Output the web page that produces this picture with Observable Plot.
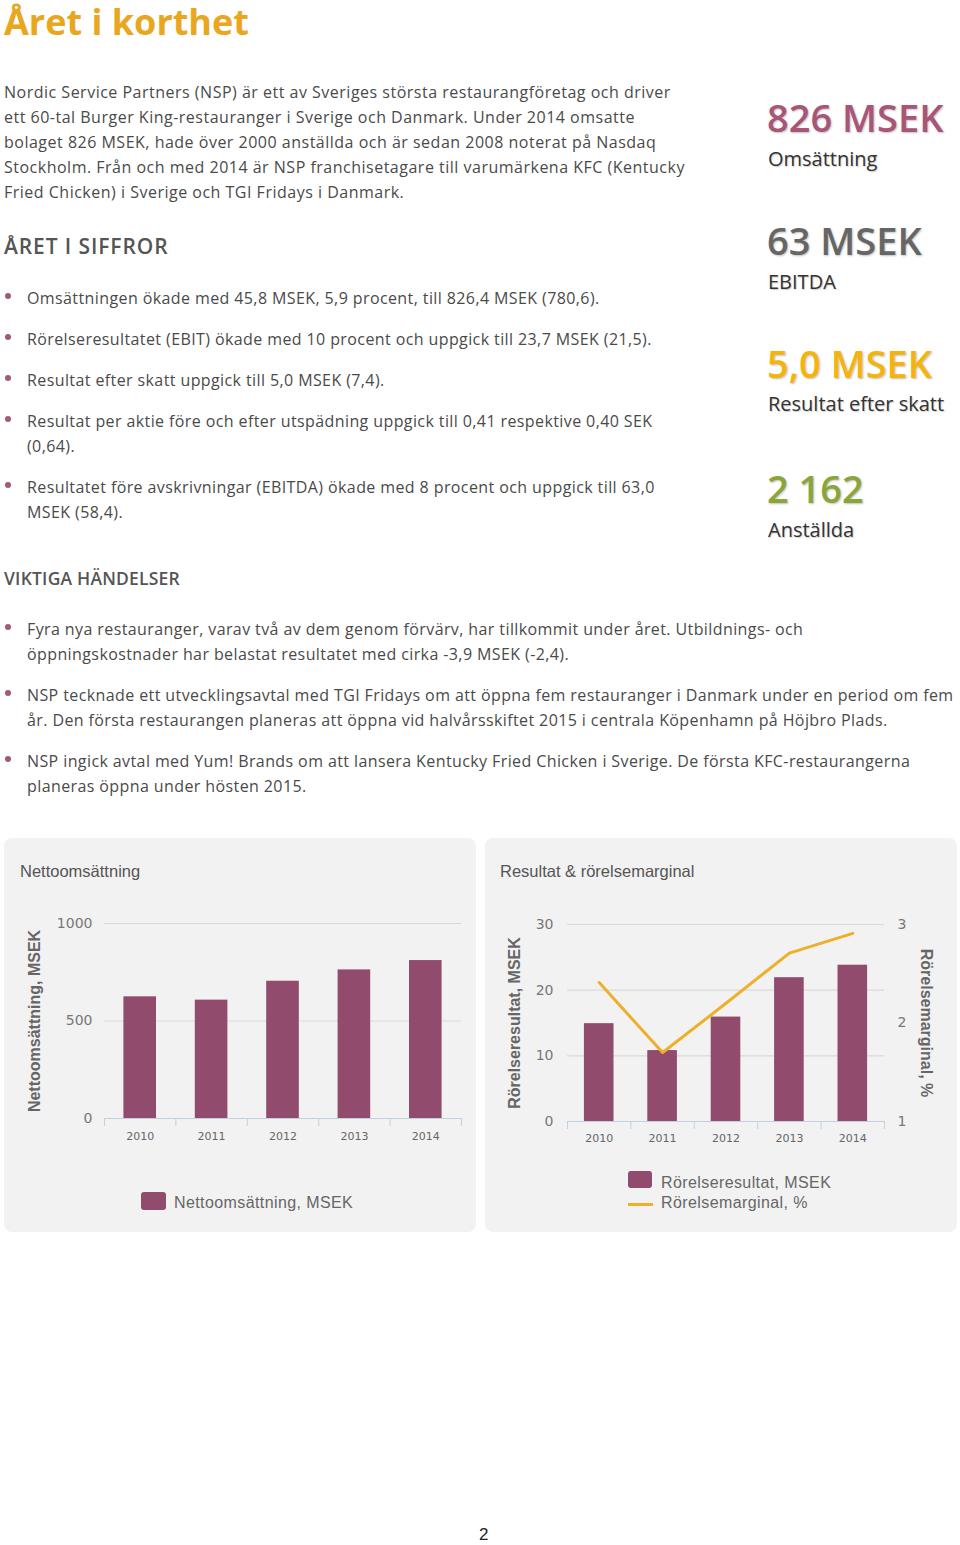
<!DOCTYPE html>
<html>
<head>
<meta charset="utf-8">
<script src="https://cdn.jsdelivr.net/npm/d3@7"></script>
<script src="https://cdn.jsdelivr.net/npm/@observablehq/plot@0.6"></script>
<style>
  html, body { margin: 0; padding: 0; background: #fff; }
  body { width: 960px; height: 1545px; position: relative; overflow: hidden; font-family: "Open Sans", sans-serif; }
  .abs { position: absolute; white-space: nowrap; }
  .title { left: 4px; top: 0px; font-size: 36px; font-weight: 700; color: #e8a71e; line-height: 44px; }
  .body { font-size: 16px; color: #4a4a4a; line-height: 25px; letter-spacing: 0.4px; }
  .para { letter-spacing: 0.5px; }
  .h2 { font-size: 21px; color: #555; line-height: 28px; letter-spacing: 0.9px; font-weight: 600; }
  .h3 { font-size: 17.5px; color: #555; line-height: 24px; font-weight: 600; letter-spacing: 0.2px; }
  .bullet { position: absolute; width: 6px; height: 6px; border-radius: 50%; background: #a25877; }
  .kpi { position: absolute; left: 767px; white-space: nowrap; font-weight: 600; font-size: 38px; line-height: 44px; text-shadow: 1px 1px 2px rgba(0,0,0,0.25); }
  .kpisub { position: absolute; left: 768px; white-space: nowrap; font-size: 20px; line-height: 26px; color: #333; text-shadow: 1px 1px 1px rgba(0,0,0,0.2); }
  .panel { position: absolute; top: 838px; width: 472px; height: 394px; background: #f2f2f2; border-radius: 8px; }
  .ptitle { position: absolute; font-family: "Liberation Sans", Arial, sans-serif; font-size: 16.5px; color: #555; white-space: nowrap; }
  .chart { position: absolute; top: 900px; }
  .leg { position: absolute; font-family: "Liberation Sans", Arial, sans-serif; font-size: 16px; color: #666; white-space: nowrap; letter-spacing: 0.4px; line-height: 20px; }
  .sw { position: absolute; background: #914b6c; border-radius: 3px; }
</style>
</head>
<body>
<div class="abs title">Året i korthet</div>

<div class="abs body para" style="left:4px; top:80px;">Nordic Service Partners (NSP) är ett av Sveriges största restaurangföretag och driver<br>ett 60-tal Burger King-restauranger i Sverige och Danmark. Under 2014 omsatte<br>bolaget 826 MSEK, hade över 2000 anställda och är sedan 2008 noterat på Nasdaq<br>Stockholm. Från och med 2014 är NSP franchisetagare till varumärkena KFC (Kentucky<br>Fried Chicken) i Sverige och TGI Fridays i Danmark.</div>

<div class="abs h2" style="left:4px; top:232px;">ÅRET I SIFFROR</div>
<div id="list1"></div>
<div class="abs h3" style="left:4px; top:566px;">VIKTIGA HÄNDELSER</div>
<div id="list2"></div>

<div class="kpi" style="top:95px; color:#a85577;">826 MSEK</div>
<div class="kpisub" style="top:146px;">Omsättning</div>
<div class="kpi" style="top:218px; color:#666;">63 MSEK</div>
<div class="kpisub" style="top:269px;">EBITDA</div>
<div class="kpi" style="top:341px; color:#f3b40c;">5,0 MSEK</div>
<div class="kpisub" style="top:391px;">Resultat efter skatt</div>
<div class="kpi" style="top:466px; color:#8aa63a;">2 162</div>
<div class="kpisub" style="top:517px;">Anställda</div>

<div class="panel" style="left:4px;"></div>
<div class="panel" style="left:485px;"></div>
<div class="ptitle" style="left:20px; top:862px;">Nettoomsättning</div>
<div class="ptitle" style="left:500px; top:862px;">Resultat &amp; rörelsemarginal</div>
<div id="chart1" class="chart" style="left:4px;"></div>
<div id="chart2" class="chart" style="left:485px;"></div>

<div class="sw" style="left:141px; top:1192px; width:25px; height:18px;"></div>
<div class="leg" style="left:174px; top:1193px;">Nettoomsättning, MSEK</div>
<div class="sw" style="left:628px; top:1171px; width:24px; height:17px;"></div>
<div class="leg" style="left:661px; top:1173px;">Rörelseresultat, MSEK</div>
<div style="position:absolute; left:628px; top:1203px; width:25px; height:3px; background:#eeb02b;"></div>
<div class="leg" style="left:661px; top:1193px;">Rörelsemarginal, %</div>

<div class="abs" style="left:479px; top:1525px; font-family:'Liberation Sans',Arial,sans-serif; font-size:17px; color:#222;">2</div>

<script>
// ---- Text data ----
const siffror = [
  ["Omsättningen ökade med 45,8 MSEK, 5,9 procent, till 826,4 MSEK (780,6)."],
  ["Rörelseresultatet (EBIT) ökade med 10 procent och uppgick till 23,7 MSEK (21,5)."],
  ["Resultat efter skatt uppgick till 5,0 MSEK (7,4)."],
  ["Resultat per aktie före och efter utspädning uppgick till 0,41 respektive 0,40 SEK", "(0,64)."],
  ["Resultatet före avskrivningar (EBITDA) ökade med 8 procent och uppgick till 63,0", "MSEK (58,4)."]
];
const handelser = [
  ["Fyra nya restauranger, varav två av dem genom förvärv, har tillkommit under året. Utbildnings- och", "öppningskostnader har belastat resultatet med cirka -3,9 MSEK (-2,4)."],
  ["NSP tecknade ett utvecklingsavtal med TGI Fridays om att öppna fem restauranger i Danmark under en period om fem", "år. Den första restaurangen planeras att öppna vid halvårsskiftet 2015 i centrala Köpenhamn på Höjbro Plads."],
  ["NSP ingick avtal med Yum! Brands om att lansera Kentucky Fried Chicken i Sverige. De första KFC-restaurangerna", "planeras öppna under hösten 2015."]
];

function renderList(id, items, startTop) {
  const root = document.getElementById(id);
  let top = startTop;
  for (const lines of items) {
    const b = document.createElement("div");
    b.className = "bullet";
    b.style.left = "5px";
    b.style.top = (top + 7) + "px";
    root.appendChild(b);
    const t = document.createElement("div");
    t.className = "abs body";
    t.style.left = "27px";
    t.style.top = top + "px";
    t.innerHTML = lines.join("<br>");
    root.appendChild(t);
    top += lines.length * 25 + 16;
  }
}
renderList("list1", siffror, 286);
renderList("list2", handelser, 617);

// ---- Chart data ----
const years = [2010, 2011, 2012, 2013, 2014];
const nettoomsattning = [624, 607, 704, 762, 810];
const rorelseresultat = [14.9, 10.8, 15.9, 21.9, 23.8];
const rorelsemarginal = [2.41, 1.70, 2.20, 2.71, 2.91];
const yTicks1 = [0, 500, 1000];
const yTicks2 = [0, 10, 20, 30];
const yTicksRight = [1, 2, 3];

const barColor = "#914b6c";
const lineColor = "#eeb02b";
const gridColor = "#d9d9d9";
const axisColor = "#c0d0e0";

const data1 = years.map((year, i) => ({year, value: nettoomsattning[i]}));
const data2 = years.map((year, i) => ({year, ebit: rorelseresultat[i], margin: rorelsemarginal[i]}));
const bounds = [years[0] - 0.5, ...years.map(y => y + 0.5)];

const baseStyle = {background: "transparent", fontFamily: "'DejaVu Sans', sans-serif", color: "#666", overflow: "visible"};
const titleFont = {fontSize: 16, fill: "#666", fontFamily: "'Liberation Sans', Arial, sans-serif", fontWeight: "bold", textAnchor: "middle", lineAnchor: "middle"};

const chart1 = Plot.plot({
  width: 472, height: 260,
  marginLeft: 100, marginRight: 15, marginTop: 23, marginBottom: 42,
  style: baseStyle,
  x: {type: "linear", domain: [bounds[0], bounds[bounds.length - 1]]},
  y: {domain: [0, 1000]},
  marks: [
    Plot.ruleY(yTicks1.filter(d => d > 0), {stroke: gridColor, strokeWidth: 1.2}),
    Plot.rectY(data1, {x1: d => d.year - 0.5, x2: d => d.year + 0.5, y: "value", fill: barColor, insetLeft: 19.4, insetRight: 19.4}),
    Plot.ruleY([0], {stroke: axisColor, strokeWidth: 1.2}),
    Plot.axisX({ticks: bounds, tickSize: 8, tickFormat: () => "", stroke: axisColor, label: null}),
    Plot.axisX({ticks: years, tickSize: 0, tickPadding: 14, tickFormat: d => String(d), fontSize: 11, fill: "#666", label: null}),
    Plot.axisY({ticks: yTicks1, tickSize: 0, tickPadding: 12, tickFormat: d => String(d), fontSize: 14, fill: "#777", label: null, style: "letter-spacing:1.5px"}),
    Plot.text(["Nettoomsättning, MSEK"], {frameAnchor: "left", dx: -70, rotate: -90, ...titleFont})
  ]
});
document.getElementById("chart1").appendChild(chart1);

const chart2 = Plot.plot({
  width: 472, height: 260,
  marginLeft: 82, marginRight: 73, marginTop: 24, marginBottom: 39,
  style: baseStyle,
  x: {type: "linear", domain: [bounds[0], bounds[bounds.length - 1]]},
  y: {domain: [0, 30]},
  marks: [
    Plot.ruleY(yTicks2.filter(d => d > 0), {stroke: gridColor, strokeWidth: 1.2}),
    Plot.rectY(data2, {x1: d => d.year - 0.5, x2: d => d.year + 0.5, y: "ebit", fill: barColor, insetLeft: 16.9, insetRight: 16.9}),
    Plot.line(data2, {x: "year", y: d => (d.margin - 1) * 15, stroke: lineColor, strokeWidth: 3}),
    Plot.ruleY([0], {stroke: axisColor, strokeWidth: 1.2}),
    Plot.axisX({ticks: bounds, tickSize: 8, tickFormat: () => "", stroke: axisColor, label: null}),
    Plot.axisX({ticks: years, tickSize: 0, tickPadding: 13, tickFormat: d => String(d), fontSize: 11, fill: "#666", label: null}),
    Plot.axisY({ticks: yTicks2, tickSize: 0, tickPadding: 14, tickFormat: d => String(d), fontSize: 14, fill: "#777", label: null, style: "letter-spacing:1.5px"}),
    Plot.axisY({anchor: "right", ticks: yTicksRight.map(m => (m - 1) * 15), tickSize: 0, tickPadding: 13, tickFormat: d => String(d / 15 + 1), fontSize: 14, fill: "#777", label: null}),
    Plot.text(["Rörelseresultat, MSEK"], {frameAnchor: "left", dx: -53, rotate: -90, ...titleFont}),
    Plot.text(["Rörelsemarginal, %"], {frameAnchor: "right", dx: 42, rotate: 90, ...titleFont})
  ]
});
document.getElementById("chart2").appendChild(chart2);
</script>
</body>
</html>
